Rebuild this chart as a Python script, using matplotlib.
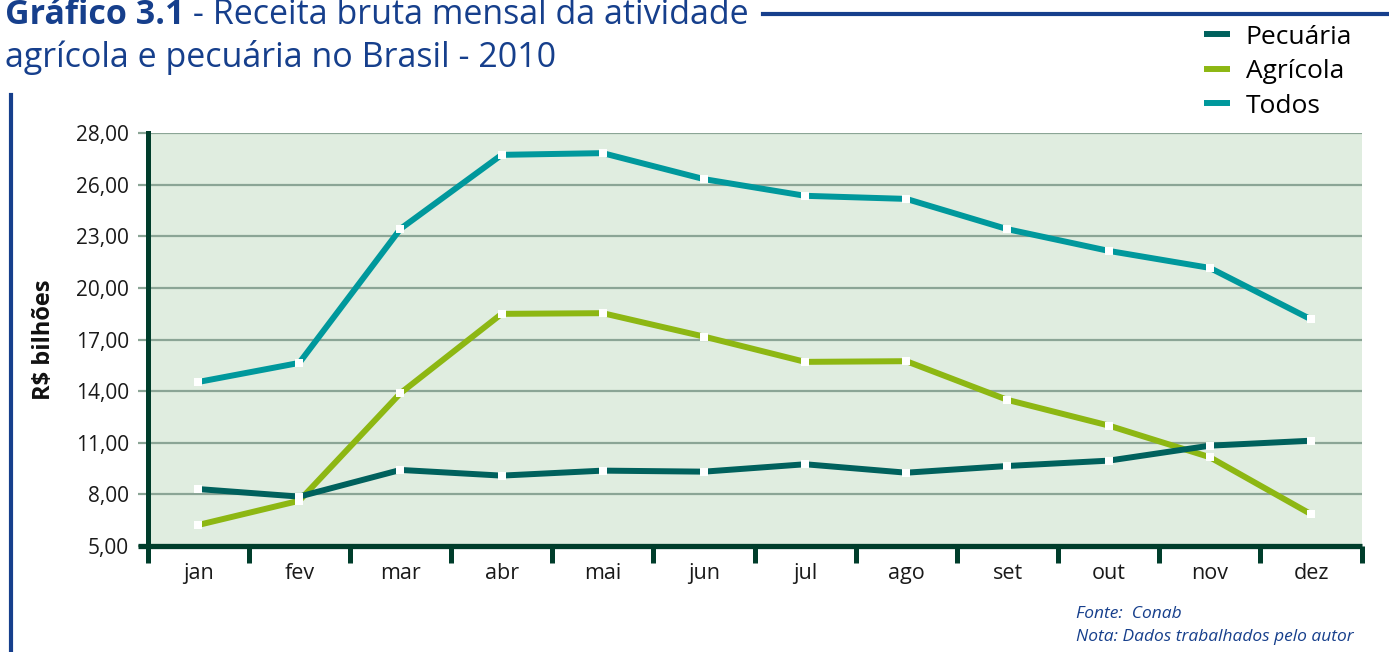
import matplotlib.pyplot as plt
import numpy as np
from matplotlib.lines import Line2D

# dados (R$ bilhões)
meses = ["jan", "fev", "mar", "abr", "mai", "jun", "jul", "ago", "set", "out", "nov", "dez"]
pecuaria = [8.31, 7.87, 9.42, 9.09, 9.38, 9.32, 9.75, 9.26, 9.65, 9.96, 10.83, 11.12]
agricola = [6.22, 7.63, 13.88, 18.49, 18.53, 17.17, 15.70, 15.74, 13.49, 12.00, 10.16, 6.85]
todos = [14.53, 15.64, 23.43, 27.73, 27.83, 26.32, 25.35, 25.17, 23.41, 22.15, 21.16, 18.17]

y_ticks = [5, 8, 11, 14, 17, 20, 23, 26, 29]
y_labels = ["5,00", "8,00", "11,00", "14,00", "17,00", "20,00", "23,00", "26,00", "28,00"]

AZUL = "#163f8c"
ESCURO = "#003d2b"
COR_PEC = "#00615d"
COR_AGR = "#8db713"
COR_TOD = "#00989c"
FUNDO = "#e0ede0"
GRADE = "#8ba596"

plt.rcParams["font.family"] = ["Open Sans", "DejaVu Sans"]

W, H = 1389, 652
fig = plt.figure(figsize=(W / 100, H / 100), dpi=100)
ax = fig.add_axes([147.5 / W, 1 - 546 / H, (1361.6 - 147.5) / W, (546 - 133) / H])
ax.set_facecolor(FUNDO)

x = np.arange(len(meses))
estilo = dict(linewidth=4.3, solid_joinstyle="round", solid_capstyle="butt",
              marker="s", markersize=6, markerfacecolor="white",
              markeredgewidth=0, clip_on=False)
l_agr, = ax.plot(x, agricola, color=COR_AGR, label="Agrícola", zorder=3, **estilo)
l_pec, = ax.plot(x, pecuaria, color=COR_PEC, label="Pecuária", zorder=4, **estilo)
l_tod, = ax.plot(x, todos, color=COR_TOD, label="Todos", zorder=5, **estilo)

ax.set_xlim(-0.5, 11.5)
ax.set_ylim(5, 29)

# eixo y
ax.set_yticks(y_ticks)
ax.set_yticklabels(y_labels, fontsize=15)
ax.tick_params(axis="y", length=7.5, width=1.6, color=GRADE, pad=6, labelcolor="#1a1a1a")
ax.grid(True, axis="y", color=GRADE, linewidth=1.6, zorder=1)
ax.set_axisbelow(True)
ax.set_ylabel("R$ bilhões", fontsize=17, fontweight="bold", labelpad=14, color="#111111")

# eixo x: marcas entre meses, rótulos no centro
ax.set_xticks(np.arange(-0.5, 12, 1))
ax.set_xticklabels([])
ax.tick_params(axis="x", which="major", length=12, width=3.6, color=ESCURO, direction="out")
ax.set_xticks(x, minor=True)
ax.set_xticklabels(meses, minor=True, fontsize=15.5)
ax.tick_params(axis="x", which="minor", length=0, pad=12, labelcolor="#1a1a1a")

for lado in ["top", "right"]:
    ax.spines[lado].set_visible(False)
ax.spines["left"].set_color(ESCURO)
ax.spines["left"].set_linewidth(3.6)
ax.spines["bottom"].set_visible(False)
ax.plot([-0.59, 11.5], [5, 5], color=ESCURO, linewidth=3.8, clip_on=False,
        solid_capstyle="butt", zorder=6)

# legenda
leg = fig.legend([l_pec, l_agr, l_tod], ["Pecuária", "Agrícola", "Todos"],
                 loc="upper left", bbox_to_anchor=(1193 / W, 1 - 14 / H),
                 frameon=False, fontsize=19, handlelength=1.0, handletextpad=0.6,
                 labelspacing=0.36, borderaxespad=0)
for h in leg.legend_handles:
    h.set_marker("")
    h.set_linewidth(4.3)

# título
r = fig.canvas.get_renderer()
t1 = fig.text(5 / W, 1 - 24 / H, "Gráfico 3.1", fontsize=24.5, fontweight="bold",
              color=AZUL, va="baseline")
bb = t1.get_window_extent(renderer=r)
fig.text(bb.x1 / W, 1 - 24 / H, " - Receita bruta mensal da atividade", fontsize=24.5,
         color=AZUL, va="baseline")
fig.text(5 / W, 1 - 67 / H, "agrícola e pecuária no Brasil - 2010", fontsize=24.5,
         color=AZUL, va="baseline")

# linhas decorativas
fig.add_artist(Line2D([763 / W, 1], [1 - 14 / H, 1 - 14 / H], color=AZUL,
                      linewidth=3, transform=fig.transFigure))
fig.add_artist(Line2D([11 / W, 11 / W], [0, 1 - 95 / H], color=AZUL,
                      linewidth=3, transform=fig.transFigure))

# fonte
fig.text(1076 / W, 1 - 618 / H, "Fonte:  Conab", fontsize=12.5, style="italic",
         color=AZUL, va="baseline")
fig.text(1076 / W, 1 - 641 / H, "Nota: Dados trabalhados pelo autor", fontsize=12.5,
         style="italic", color=AZUL, va="baseline")

fig.savefig("out.png", dpi=100)
